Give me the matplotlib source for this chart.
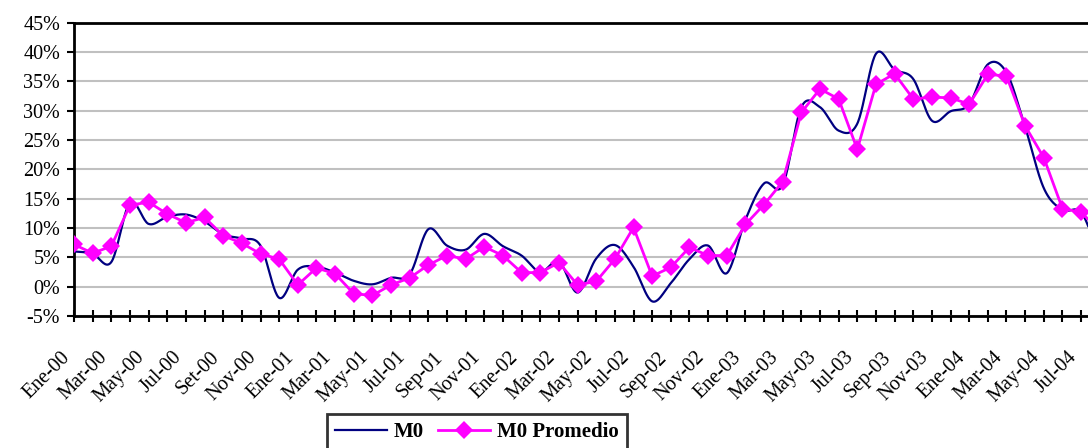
import numpy as np
import matplotlib.pyplot as plt
from matplotlib.lines import Line2D

# monthly series, Ene-00 .. Ago-04 (last month lies past the right edge)
m0 = [6.0, 5.6, 4.2, 14.3, 10.7, 11.9, 12.3, 11.1, 8.9, 8.2,
      7.0, -1.9, 2.9, 3.4, 2.4, 1.0, 0.4, 1.5, 2.1, 9.8,
      7.0, 6.3, 9.0, 6.9, 5.3, 2.5, 4.3, -1.0, 4.8, 7.1,
      3.4, -2.5, 0.6, 4.7, 7.0, 2.3, 11.4, 17.6, 17.3, 30.6,
      30.6, 26.6, 27.8, 39.7, 37.0, 35.4, 28.3, 29.9, 31.1, 37.9,
      36.5, 27.2, 16.8, 13.1, 12.7, 6.0]
m0_prom = [7.2, 5.7, 6.9, 13.9, 14.4, 12.4, 10.9, 11.8, 8.7, 7.4,
           5.6, 4.7, 0.3, 3.2, 2.2, -1.2, -1.5, 0.3, 1.5, 3.7,
           5.3, 4.7, 6.8, 5.3, 2.4, 2.4, 4.1, 0.3, 0.9, 4.7,
           10.1, 1.8, 3.3, 6.7, 5.3, 5.3, 10.6, 14.0, 17.9, 29.7,
           33.7, 32.0, 23.4, 34.5, 36.3, 32.0, 32.3, 32.2, 31.1, 36.2,
           35.9, 27.4, 22.0, 13.3, 12.7, 9.5]
tick_labels = ['Ene-00', 'Mar-00', 'May-00', 'Jul-00', 'Set-00', 'Nov-00',
               'Ene-01', 'Mar-01', 'May-01', 'Jul-01', 'Sep-01', 'Nov-01',
               'Ene-02', 'Mar-02', 'May-02', 'Jul-02', 'Sep-02', 'Nov-02',
               'Ene-03', 'Mar-03', 'May-03', 'Jul-03', 'Sep-03', 'Nov-03',
               'Ene-04', 'Mar-04', 'May-04', 'Jul-04']


def smooth(y, n=24):
    # Catmull-Rom curve, like Excel's "smoothed line"
    y = np.asarray(y, float)
    p = np.concatenate([[y[0]], y, [y[-1]]])
    xs, ys = [], []
    t = np.linspace(0, 1, n, endpoint=False)
    for i in range(len(y) - 1):
        p0, p1, p2, p3 = p[i], p[i + 1], p[i + 2], p[i + 3]
        ys.append(0.5 * (2 * p1 + (-p0 + p2) * t
                         + (2 * p0 - 5 * p1 + 4 * p2 - p3) * t ** 2
                         + (-p0 + 3 * p1 - 3 * p2 + p3) * t ** 3))
        xs.append(i + t)
    xs.append([len(y) - 1])
    ys.append([y[-1]])
    return np.concatenate(xs), np.concatenate(ys)


plt.rcParams['font.family'] = ['Liberation Serif', 'DejaVu Serif']

fig = plt.figure(figsize=(10.88, 4.48), dpi=100)
ax = fig.add_axes([74 / 1088, 132 / 448, 1014 / 1088, 293.3 / 448])

x = np.arange(len(m0))
sx, sy = smooth(m0)
ax.plot(sx, sy, color='#000080', lw=1.6, zorder=3)
ax.plot(x, m0_prom, color='#ff00ff', lw=2.0, marker='D', ms=9,
        markeredgewidth=0, zorder=4)

ax.set_xlim(0, 1014 / 18.65)
ax.set_ylim(-5, 45)
ax.set_yticks(np.arange(-5, 46, 5))
ax.set_yticklabels([f'{v}%' for v in range(-5, 46, 5)], fontsize=14.5)
ax.set_xticks(np.arange(55))
labels = []
for i in range(55):
    labels.append(tick_labels[i // 2] if i % 2 == 0 else '')
ax.set_xticklabels(labels, rotation=45, ha='right', va='top', fontsize=14.5)
ax.tick_params(axis='x', direction='inout', length=8, width=1.5, pad=19)
ax.tick_params(axis='y', direction='out', length=5, width=1.5, pad=5)
ax.grid(axis='y', color='#c0c0c0', lw=1.5)
ax.set_axisbelow(True)
for s in ['left', 'bottom', 'top']:
    ax.spines[s].set_linewidth(2)
ax.spines['right'].set_visible(False)

handles = [Line2D([], [], color='#000080', lw=1.6),
           Line2D([], [], color='#ff00ff', lw=2.0, marker='D', ms=9, markeredgewidth=0)]
leg = fig.legend(handles, ['M0', 'M0 Promedio'], ncol=2, loc='upper left',
                 bbox_to_anchor=(327 / 1088, 1 - 414 / 448),
                 prop={'weight': 'bold', 'size': 15}, frameon=True, fancybox=False,
                 handlelength=2.5, handletextpad=0.3, columnspacing=0.7,
                 borderpad=0.4, borderaxespad=0)
leg.get_frame().set_edgecolor('black')
leg.get_frame().set_linewidth(2)

fig.savefig('out.png', dpi=100)
